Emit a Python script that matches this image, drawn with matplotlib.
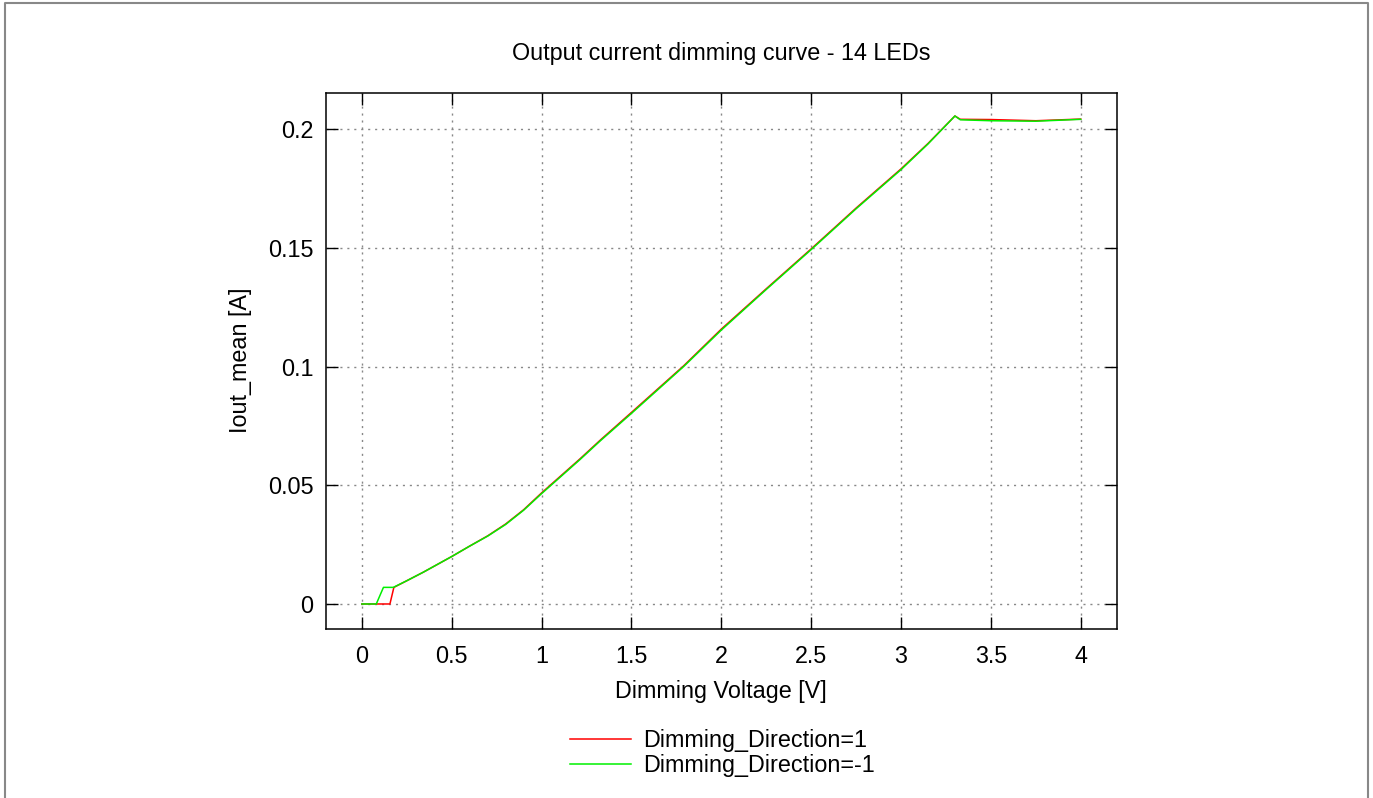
import matplotlib
matplotlib.use('Agg')
import matplotlib.pyplot as plt
from matplotlib.ticker import FuncFormatter
from matplotlib.lines import Line2D

plt.rcParams['font.family'] = ['Liberation Sans', 'DejaVu Sans']
plt.rcParams['lines.scale_dashes'] = False

# Dimming_Direction=1 (sweep up)
v_up = [0, 0.05, 0.10, 0.156, 0.178, 0.25, 0.342, 0.5, 0.6, 0.7, 0.8, 0.9, 1.0,
        1.2145, 1.326, 1.5, 1.79, 2.0, 2.25, 2.5, 2.663, 2.75, 3.0, 3.15, 3.3,
        3.33, 3.5, 3.75, 4.0]
i_up = [0, 0, 0, 0, 0.0070, 0.0098, 0.0134, 0.0200, 0.0244, 0.0287, 0.0337, 0.0397, 0.0468,
        0.0612, 0.0690, 0.0807, 0.1003, 0.1158, 0.1328, 0.1496, 0.1608, 0.1668, 0.1833, 0.1940, 0.2056,
        0.2042, 0.2041, 0.2036, 0.2043]

# Dimming_Direction=-1 (sweep down)
v_dn = [0, 0.04, 0.08, 0.12, 0.175, 0.25, 0.342, 0.5, 0.6, 0.7, 0.8, 0.9, 1.0,
        1.2145, 1.326, 1.5, 1.79, 2.0, 2.25, 2.5, 2.663, 2.75, 3.0, 3.15, 3.3,
        3.33, 3.5, 3.75, 4.0]
i_dn = [0, 0, 0, 0.0070, 0.0070, 0.0098, 0.0134, 0.0200, 0.0244, 0.0286, 0.0335, 0.0395, 0.0465,
        0.0609, 0.0687, 0.0803, 0.1000, 0.1154, 0.1325, 0.1493, 0.1605, 0.1665, 0.1830, 0.1938, 0.2056,
        0.2040, 0.2036, 0.2034, 0.2042]

xticks = [0, 0.5, 1, 1.5, 2, 2.5, 3, 3.5, 4]
yticks = [0, 0.05, 0.1, 0.15, 0.2]

fs = 16.8
fig = plt.figure(figsize=(13.73, 7.98), dpi=100)
ax = fig.add_axes([0.2374, 0.2122, 0.5759, 0.6716])

ax.plot(v_up, i_up, color='#ff0000', lw=1.1, label='Dimming_Direction=1')
ax.plot(v_dn, i_dn, color='#00f000', lw=1.1, label='Dimming_Direction=-1')

ax.set_xlim(-0.2, 4.2)
ax.set_ylim(-0.0104, 0.2154)
ax.set_xticks(xticks)
ax.set_yticks(yticks)
fmt = FuncFormatter(lambda v, p: '%g' % v)
ax.xaxis.set_major_formatter(fmt)
ax.yaxis.set_major_formatter(fmt)

ax.grid(True, color='#888888', lw=1.0, linestyle=(0, (1.5, 3.5)))
ax.tick_params(direction='in', length=8.6, width=1.0, top=True, right=True,
               labelsize=fs, colors='black')
ax.tick_params(axis='x', pad=11.5)
ax.tick_params(axis='y', pad=9)
for s in ax.spines.values():
    s.set_linewidth(1.1)

ax.set_title('Output current dimming curve - 14 LEDs', fontsize=fs, y=1.074, pad=0, va='center')
ax.set_xlabel('Dimming Voltage [V]', fontsize=fs, va='center')
ax.xaxis.set_label_coords(0.5, -0.118)
ax.set_ylabel('Iout_mean [A]', fontsize=fs, va='center')
ax.yaxis.set_label_coords(-0.1075, 0.5)

fig.legend(loc='upper left', bbox_to_anchor=(570 / 1373, 1 - 729 / 798),
           frameon=False, fontsize=fs, handlelength=2.6, handletextpad=0.55,
           labelspacing=0.1, borderpad=0, borderaxespad=0)

# grey page frame (left, top, right)
W, H = 1373, 798
fx = [5 / W, 5 / W, 1368 / W, 1368 / W]
fy = [0, 1 - 3 / H, 1 - 3 / H, 0]
fig.add_artist(Line2D(fx, fy, transform=fig.transFigure, color='#888888', lw=1.5))

fig.savefig('out.png', dpi=100)
